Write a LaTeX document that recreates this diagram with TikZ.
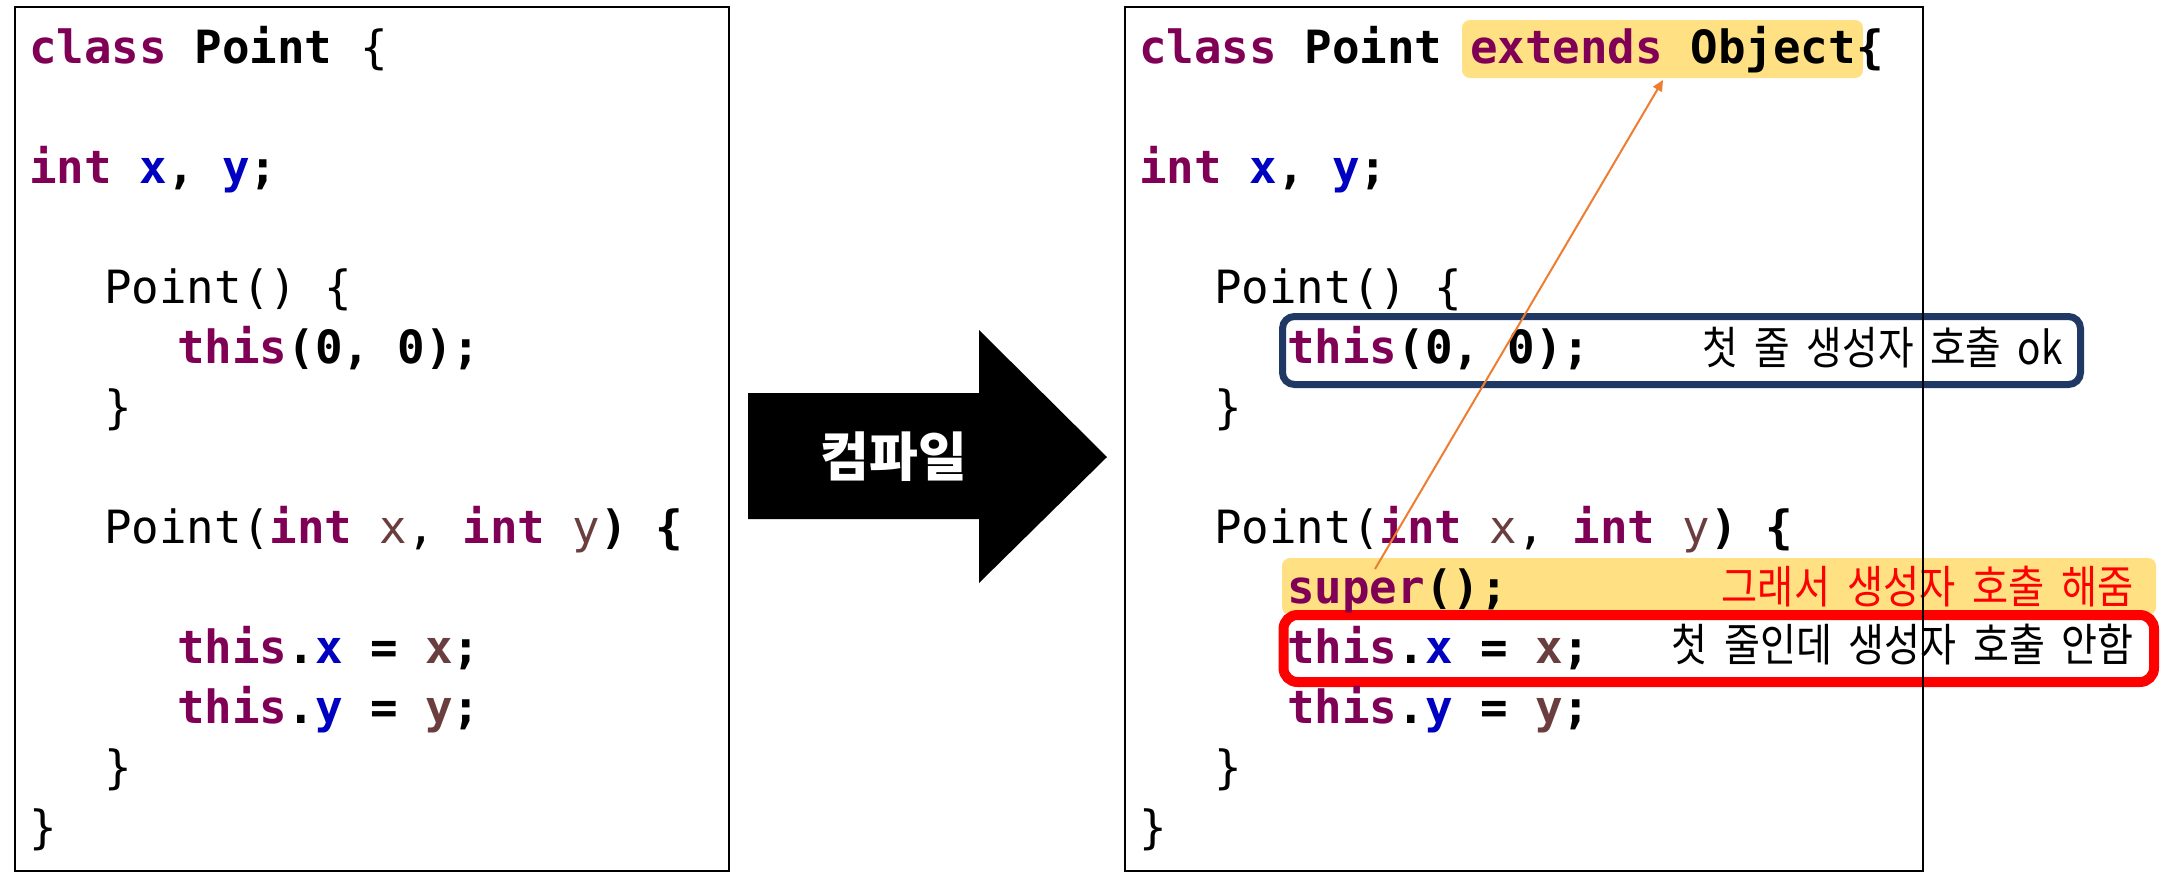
\documentclass[tikz,border=0pt]{standalone}
\usepackage{fontspec}
\usepackage{graphicx}
\usetikzlibrary{arrows.meta}
\setmonofont{DejaVu Sans Mono}
\newfontfamily\kr{Noto Sans CJK KR}
\newfontfamily\krw[WordSpace=1.9]{Noto Sans CJK KR}
\definecolor{kwc}{HTML}{7F0055}
\definecolor{fdc}{HTML}{0000C0}
\definecolor{pac}{HTML}{6A3E3E}
\definecolor{hly}{HTML}{FFE083}
\definecolor{navy}{HTML}{1F3864}
\definecolor{orng}{HTML}{ED7D31}
\newcommand\kw[1]{\textcolor{kwc}{\bfseries #1}}
\newcommand\fd[1]{\textcolor{fdc}{\bfseries #1}}
\newcommand\pa[1]{\textcolor{pac}{#1}}
\newcommand\fitw[2]{\resizebox{#1}{\height}{#2}}
\tikzset{
  code/.style={anchor=base west, inner sep=0pt, font=\ttfamily\fontsize{45.8}{60}\selectfont},
  note/.style={anchor=base east, inner sep=0pt, font=\krw\fontsize{45}{50}\selectfont},
  frame/.style={draw=black, line width=2pt},
  hl/.style={fill=hly, rounded corners=8pt},
}
\begin{document}
\begin{tikzpicture}[x=1pt,y=-1pt]
\useasboundingbox (0,0) rectangle (2161,887);
% left box
\draw[frame] (15,7) rectangle (729,871);
\node[code] (l1) at (29,63) {\kw{class} \textbf{Point} \{};
\node[code] (l2) at (29,183) {\kw{int} \fd{x}\textbf{,} \fd{y}\textbf{;}};
\node[code] (l3) at (104,303) {Point() \{};
\node[code] (l4) at (177,363) {\kw{this}\textbf{(0, 0);}};
\node[code] (l5) at (104,423) {\}};
\node[code] (l6) at (104,543) {Point(\kw{int} \pa{x}, \kw{int} \pa{y}\textbf{) \{}};
\node[code] (l7) at (177,663) {\kw{this}\textbf{.}\fd{x}\textbf{ = }\pa{\bfseries x}\textbf{;}};
\node[code] (l8) at (177,723) {\kw{this}\textbf{.}\fd{y}\textbf{ = }\pa{\bfseries y}\textbf{;}};
\node[code] (l9) at (104,783) {\}};
\node[code] (l10) at (29,843) {\}};
% arrow
\fill[black] (748,393) -- (979,393) -- (979,330) -- (1107,457) -- (979,583) -- (979,519) -- (748,519) -- cycle;
\node[inner sep=0pt, text=white, font=\kr\bfseries\fontsize{53}{58}\selectfont] (comp) at (894,457) {컴파일};
% right highlights
\node[hl, minimum width=401pt, minimum height=58pt, inner sep=0pt] (ext) at (1662.5,49) {};
\node[hl, minimum width=874pt, minimum height=57pt, inner sep=0pt] (supband) at (1719,586.5) {};
\node[draw=red, line width=10pt, fill=white, rounded corners=14pt, minimum width=870.5pt, minimum height=67pt, inner sep=0pt] (redbox) at (1718.75,648.5) {};
\node[draw=navy, line width=7pt, rounded corners=12pt, minimum width=798pt, minimum height=68pt, inner sep=0pt] (bluebox) at (1681.5,350.5) {};
% right code
\node[code] (r1) at (1139,63) {\kw{class} \textbf{Point} \kw{extends} \textbf{Object\{}};
\node[code] (r2) at (1139,183) {\kw{int} \fd{x}\textbf{,} \fd{y}\textbf{;}};
\node[code] (r3) at (1214,303) {Point() \{};
\node[code] (r4) at (1287,363) {\kw{this}\textbf{(0, 0);}};
\node[code] (r5) at (1214,423) {\}};
\node[code] (r6) at (1214,543) {Point(\kw{int} \pa{x}, \kw{int} \pa{y}\textbf{) \{}};
\node[code] (r7) at (1287,603) {\kw{super}\textbf{();}};
\node[code] (r8) at (1287,663) {\kw{this}\textbf{.}\fd{x}\textbf{ = }\pa{\bfseries x}\textbf{;}};
\node[code] (r9) at (1287,723) {\kw{this}\textbf{.}\fd{y}\textbf{ = }\pa{\bfseries y}\textbf{;}};
\node[code] (r10) at (1214,783) {\}};
\node[code] (r11) at (1139,843) {\}};
% notes
\node[note] (n1) at (2063,364) {\fitw{360pt}{첫 줄 생성자 호출 ok}};
\node[note, text=red] (n2) at (2134,603) {\fitw{412pt}{그래서 생성자 호출 해줌}};
\node[note] (n3) at (2134,661) {\fitw{462pt}{첫 줄인데 생성자 호출 안함}};
% right frame
\draw[frame] (1125,7) rectangle (1923,871);
% orange arrow
\coordinate (from) at (1375,569);
\coordinate (to) at (1663,80);
\draw[orng, line width=2pt, -{Triangle[length=11pt,width=10pt]}] (from) -- (to);
\end{tikzpicture}
\end{document}
